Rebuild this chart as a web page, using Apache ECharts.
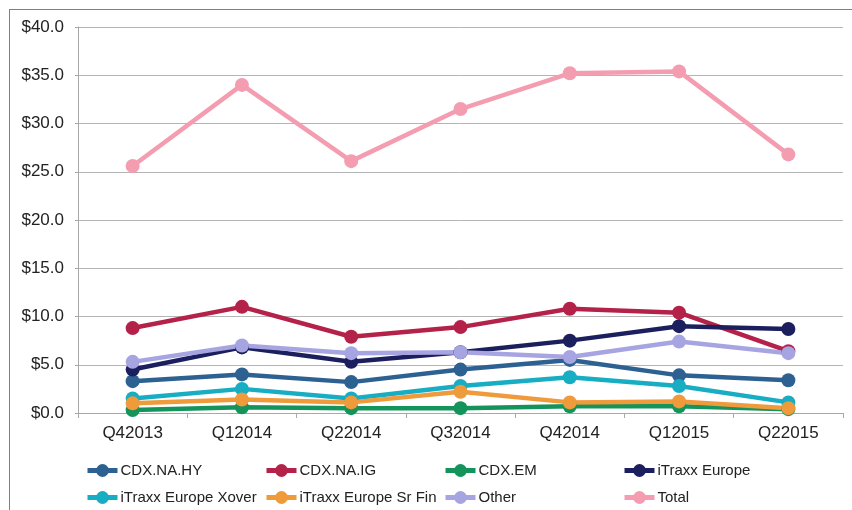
<!DOCTYPE html>
<html><head><meta charset="utf-8">
<script src="https://cdn.jsdelivr.net/npm/echarts@6/dist/echarts.min.js"></script>
<style>
html,body{margin:0;padding:0;background:#fff;}
#frame{position:absolute;left:9px;top:9px;width:843px;height:501px;border-left:1.5px solid #5f82c2;border-top:1.5px solid #5f82c2;}
#c{position:absolute;left:0;top:0;width:852px;height:510px;}
</style></head>
<body>
<div id="frame"></div>
<div id="c"></div>
<script>
const categories = ['Q42013','Q12014','Q22014','Q32014','Q42014','Q12015','Q22015'];
const cdxNaHy = [3.3, 4.0, 3.2, 4.5, 5.5, 3.9, 3.4];
const cdxNaIg = [8.8, 11.0, 7.9, 8.9, 10.8, 10.4, 6.4];
const cdxEm = [0.3, 0.6, 0.5, 0.5, 0.7, 0.7, 0.4];
const itraxxEurope = [4.5, 6.8, 5.3, 6.3, 7.5, 9.0, 8.7];
const itraxxXover = [1.5, 2.5, 1.5, 2.8, 3.7, 2.8, 1.1];
const itraxxSrFin = [1.0, 1.4, 1.1, 2.2, 1.1, 1.2, 0.5];
const other = [5.3, 7.0, 6.2, 6.3, 5.8, 7.4, 6.2];
const total = [25.6, 34.0, 26.1, 31.5, 35.2, 35.4, 26.8];

const seriesDefs = [
  ['CDX.NA.HY', cdxNaHy, '#2d6191'],
  ['CDX.NA.IG', cdxNaIg, '#b42249'],
  ['CDX.EM', cdxEm, '#14935b'],
  ['iTraxx Europe', itraxxEurope, '#1c1f5e'],
  ['iTraxx Europe Xover', itraxxXover, '#17adc3'],
  ['iTraxx Europe Sr Fin', itraxxSrFin, '#ef9a3b'],
  ['Other', other, '#a7a4e2'],
  ['Total', total, '#f49db1']
];
const font = '"Liberation Sans", Arial, sans-serif';
const chart = echarts.init(document.getElementById('c'), null, {renderer:'canvas'});
const legendLefts = [80, 259, 438, 617];
const legendTops = [458, 485];
const legends = seriesDefs.map((d, i) => ({
  left: legendLefts[i % 4], top: legendTops[Math.floor(i / 4)],
  itemWidth: 30, itemHeight: 16, itemGap: 0,
  lineStyle: {width: 5},
  textStyle: {fontFamily: font, fontSize: 15, color: '#222', padding: [0, 0, 0, -2]},
  data: [d[0]]
}));
chart.setOption({
  animation:false,
  color: seriesDefs.map(d=>d[2]),
  grid:{left:78, right:9, top:27, bottom:97},
  legend: legends,
  xAxis:{
    type:'category', data:categories, boundaryGap:true,
    axisLine:{lineStyle:{color:'#a8a8a8', width:1}},
    axisTick:{show:true, length:5, lineStyle:{color:'#a8a8a8'}},
    axisLabel:{fontFamily:font, fontSize:17, color:'#222', margin:12}
  },
  yAxis:{
    type:'value', min:0, max:40, interval:5,
    axisLine:{show:true, lineStyle:{color:'#a8a8a8'}},
    axisTick:{show:true, length:3, lineStyle:{color:'#a8a8a8'}},
    splitLine:{lineStyle:{color:'#b5b5b5', width:1}},
    axisLabel:{fontFamily:font, fontSize:17, color:'#222', margin:14,
      formatter: v => '$' + v.toFixed(1)}
  },
  series: seriesDefs.map(d=>({
    name:d[0], type:'line', data:d[1],
    symbol:'circle', symbolSize:14,
    lineStyle:{width:4.5, color:d[2]},
    itemStyle:{color:d[2]}
  }))
});
</script>
</body></html>
